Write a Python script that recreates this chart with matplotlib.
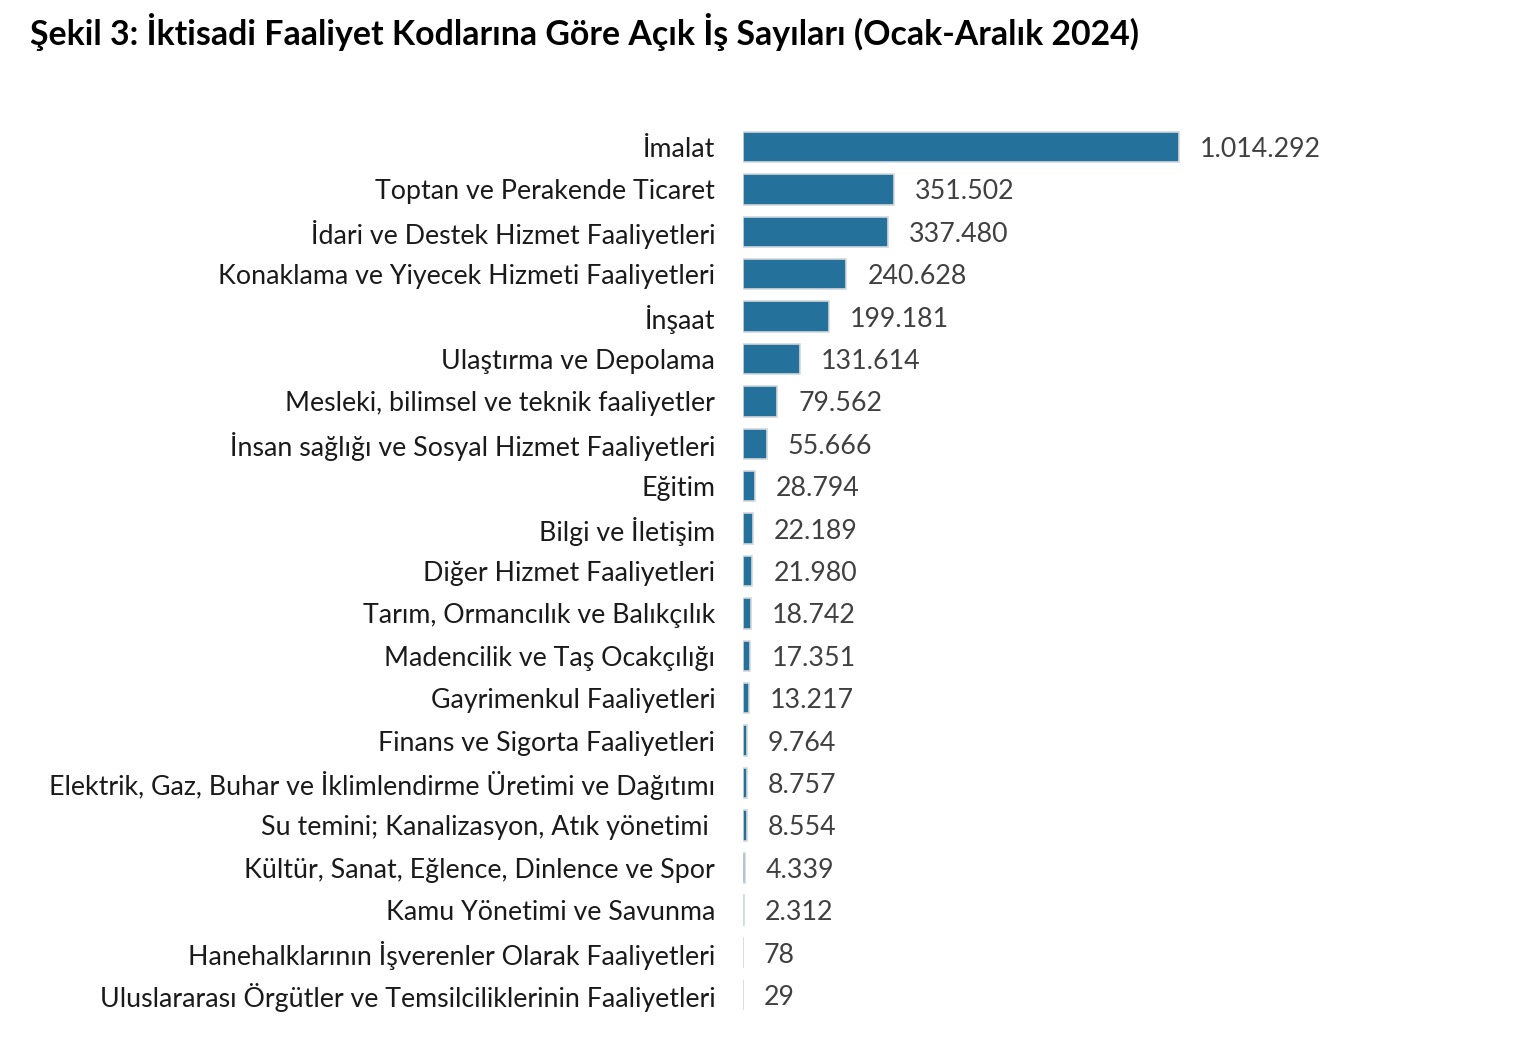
import matplotlib
matplotlib.use("Agg")
import matplotlib.pyplot as plt

categories = [
    "İmalat",
    "Toptan ve Perakende Ticaret",
    "İdari ve Destek Hizmet Faaliyetleri",
    "Konaklama ve Yiyecek Hizmeti Faaliyetleri",
    "İnşaat",
    "Ulaştırma ve Depolama",
    "Mesleki, bilimsel ve teknik faaliyetler",
    "İnsan sağlığı ve Sosyal Hizmet Faaliyetleri",
    "Eğitim",
    "Bilgi ve İletişim",
    "Diğer Hizmet Faaliyetleri",
    "Tarım, Ormancılık ve Balıkçılık",
    "Madencilik ve Taş Ocakçılığı",
    "Gayrimenkul Faaliyetleri",
    "Finans ve Sigorta Faaliyetleri",
    "Elektrik, Gaz, Buhar ve İklimlendirme Üretimi ve Dağıtımı",
    "Su temini; Kanalizasyon, Atık yönetimi ",
    "Kültür, Sanat, Eğlence, Dinlence ve Spor",
    "Kamu Yönetimi ve Savunma",
    "Hanehalklarının İşverenler Olarak Faaliyetleri",
    "Uluslararası Örgütler ve Temsilciliklerinin Faaliyetleri",
]
values = [1014292, 351502, 337480, 240628, 199181, 131614, 79562, 55666,
          28794, 22189, 21980, 18742, 17351, 13217, 9764, 8757, 8554,
          4339, 2312, 78, 29]
title = "Şekil 3: İktisadi Faaliyet Kodlarına Göre Açık İş Sayıları (Ocak-Aralık 2024)"

W, H = 1538, 1044
fig = plt.figure(figsize=(W / 100, H / 100), dpi=100)
plt.rcParams['font.family'] = ['Lato', 'DejaVu Sans']

n = len(categories)
row = 42.4
top_px = 147 - row / 2
bot_px = 995 + row / 2
left_px = 743
right_px = 1450
ax = fig.add_axes([left_px / W, 1 - bot_px / H, (right_px - left_px) / W, (bot_px - top_px) / H])

px_per_val = (1179 - 743) / 1014292
xmax = (right_px - left_px) / px_per_val

ypos = list(range(n))
ax.barh(ypos, values, height=0.72, color='#24729c', edgecolor='#d4d8dc', linewidth=1.2)
ax.set_xlim(0, xmax)
ax.set_ylim(n - 0.5, -0.5)

def fmt(v):
    return f"{v:,}".replace(",", ".")

for y, v in zip(ypos, values):
    ax.annotate(fmt(v), (v, y), xytext=(15, 0), textcoords='offset points',
                va='center_baseline', ha='left', fontsize=19.3, color='#404040')

ax.set_yticks(ypos)
ax.set_yticklabels(categories, fontsize=19.3, color='#1a1a1a', va='center_baseline')
ax.tick_params(axis='y', length=0, pad=20)
ax.set_xticks([])
for s in ax.spines.values():
    s.set_visible(False)

fig.text(30 / W, 1 - 32 / H, title, fontsize=24.4, fontweight='bold', ha='left', va='center', color='black')

fig.savefig("out.png", dpi=100, facecolor='white')
